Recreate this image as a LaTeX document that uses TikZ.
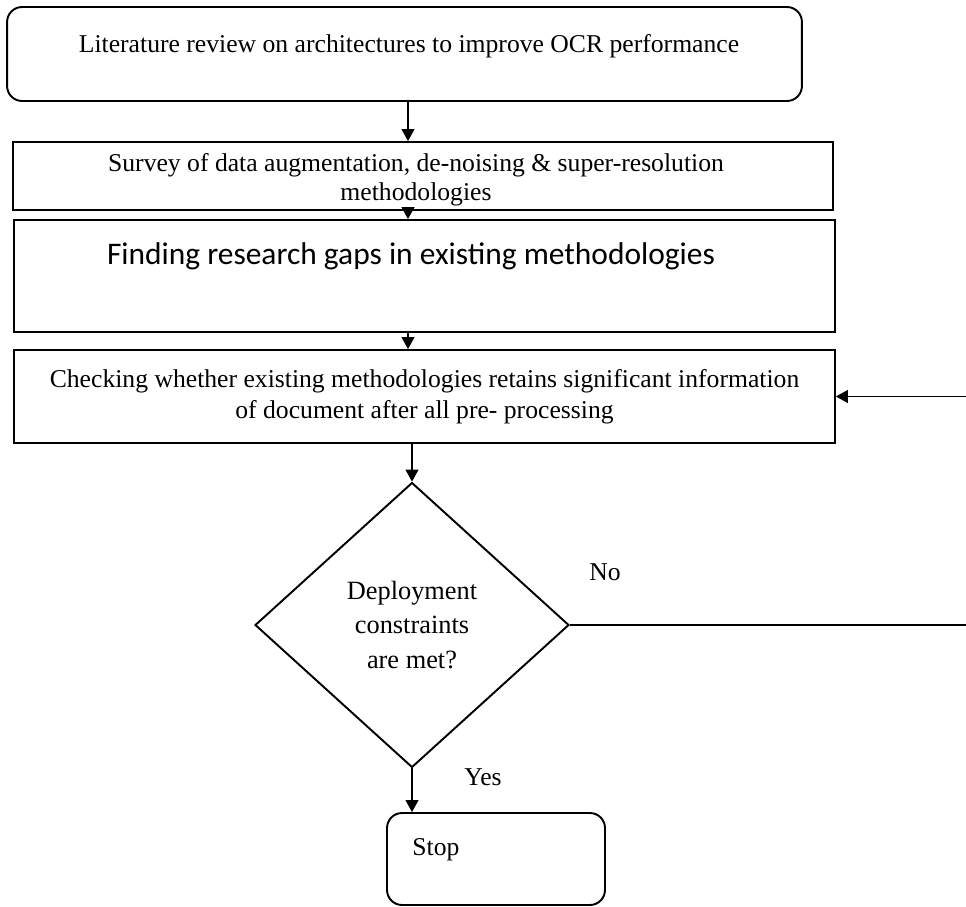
\documentclass[tikz,border=0pt]{standalone}
\usepackage{fontspec}
\setmainfont{Liberation Serif}
\newfontfamily\gapfont{Carlito}
\usetikzlibrary{positioning,calc,shapes.geometric,arrows.meta}

\begin{document}
\begin{tikzpicture}[x=0.02cm, y=-0.02cm,
  stepbox/.style={draw=black, line width=1.1pt, minimum width=16.42cm, minimum height=1.7cm, inner sep=0pt, font=\fontsize{14.6}{17.6}\selectfont, align=center},
  termbox/.style={draw=black, line width=1.1pt, rounded corners=0.3cm, inner sep=0pt},
  decision/.style={draw=black, line width=1.1pt, diamond, aspect=1.1, minimum width=6.28cm, minimum height=5.7cm, inner sep=0pt, font=\fontsize{15}{19.9}\selectfont, align=center},
  plain/.style={inner sep=0pt, font=\fontsize{14.6}{17.6}\selectfont, align=center},
  arrow/.style={-{Triangle[length=0.24cm, width=0.26cm]}, line width=0.6pt, black}
]
  \useasboundingbox (0,0) rectangle (966,906);

  % boxes
  \node[termbox, minimum width=15.9cm, minimum height=1.88cm] (lit) at (404.5,54) {};
  \node[plain] (littext) at (409,46) {Literature review on architectures to improve OCR performance};
  \node[stepbox, minimum width=16.4cm, minimum height=1.36cm] (survey) at (423,176) {};
  \node[plain, font=\fontsize{14.6}{16.4}\selectfont] (surveytext) at (416,180) {Survey of data augmentation, de-noising \& super-resolution\\methodologies};
  \node[stepbox, minimum height=2.24cm] (gaps) at (424.5,276) {};
  \node[plain, font=\gapfont\fontsize{17.9}{21}\selectfont] (gapstext) at (411,256) {Finding research gaps in existing methodologies};
  \node[stepbox, minimum height=1.86cm] (check) at (424.5,396.5) {Checking whether existing methodologies retains significant information\\of document after all pre- processing};
  \node[decision] (deploy) at (412,625) {Deployment\\constraints\\are met?};
  \node[termbox, minimum width=4.36cm, minimum height=1.84cm] (stop) at (496,859) {};
  \node[plain] (stoptext) at (436,850) {Stop};

  % labels
  \node[plain] (no) at (605,572) {No};
  \node[plain] (yes) at (483,777) {Yes};

  % connectors
  \coordinate (spine) at (408,0);
  \coordinate (loop) at (990,0);
  \draw[arrow] (lit.south -| spine) -- (survey.north -| spine);
  \draw[arrow] (survey.south -| spine) -- (gaps.north -| spine);
  \draw[arrow] (gaps.south -| spine) -- (check.north -| spine);
  \draw[arrow] (check.south -| deploy) -- (deploy.north);
  \draw[arrow] (deploy.south) -- (stop.north -| deploy);
  \draw[arrow] (deploy.east) -- (deploy.east -| loop) |- (check.east);
\end{tikzpicture}
\end{document}
